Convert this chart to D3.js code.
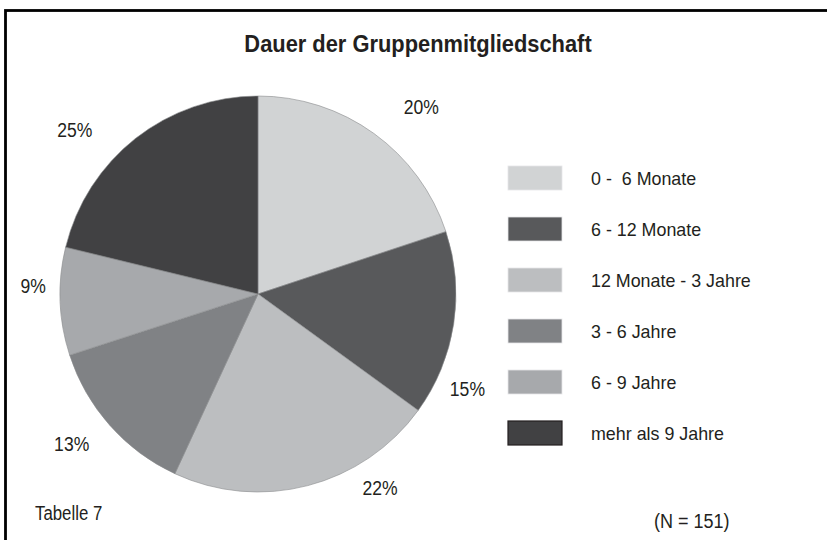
<!DOCTYPE html>
<html>
<head>
<meta charset="utf-8">
<script src="https://cdn.jsdelivr.net/npm/d3@7"></script>
<style>
  html, body { margin: 0; padding: 0; background: #fff; }
  svg { display: block; }
  text { font-family: "Liberation Sans", Arial, Helvetica, sans-serif; fill: #231f20; }
</style>
</head>
<body>
<svg id="chart" width="827" height="540"></svg>
<script>
// ---- data ----
const categories = ["0 -  6 Monate", "6 - 12 Monate", "12 Monate - 3 Jahre", "3 - 6 Jahre", "6 - 9 Jahre", "mehr als 9 Jahre"];
const shares = [19.9, 15.1, 21.9, 13.1, 8.8, 21.2];          // slice sizes as drawn (percent of circle)
const percentLabels = ["20%", "15%", "22%", "13%", "9%", "25%"]; // printed labels
const titleText = "Dauer der Gruppenmitgliedschaft";
const tableText = "Tabelle 7";
const nText = "(N = 151)";

// ---- styles / layout ----
const colors = ["#d1d3d4", "#58595b", "#bcbec0", "#808285", "#a7a9ac", "#414143"];
const labelLayout = [ // angular nudge (deg) and radius for each label
  { da: 5.4, r: 248 }, { da: 15.6, r: 230 }, { da: -17.6, r: 229 },
  { da: 2.8, r: 239 }, { da: 4.1, r: 225 }, { da: -10, r: 246 }
];

// make text look condensed: keep height, squeeze width
function condense(sel, factor) {
  sel.each(function () {
    const w = this.getComputedTextLength();
    d3.select(this).attr("textLength", w * factor).attr("lengthAdjust", "spacingAndGlyphs");
  });
}

const svg = d3.select("#chart");
const W = 827, H = 540;

// frame
svg.append("rect").attr("x", 5.5).attr("y", 10.5).attr("width", W + 20).attr("height", H + 20)
  .attr("fill", "none").attr("stroke", "#000").attr("stroke-width", 2.8);

// title
svg.append("text").attr("x", 418).attr("y", 52).attr("text-anchor", "middle")
  .attr("font-size", 23.5).attr("font-weight", "bold").text(titleText)
  .call(condense, 0.93);

// pie
const cx = 258, cy = 294, R = 198;
const pie = d3.pie().sort(null).value(d => d)(shares);
const arc = d3.arc().innerRadius(0).outerRadius(R);
const g = svg.append("g").attr("transform", `translate(${cx},${cy})`);
g.selectAll("path").data(pie).join("path")
  .attr("d", arc)
  .attr("fill", (d, i) => colors[i])
  .attr("stroke", "#8a8b8d").attr("stroke-width", 0.6);

// labels
g.selectAll("text.pct").data(pie).join("text").attr("class", "pct")
  .attr("text-anchor", "middle").attr("font-size", 19.5).attr("dy", "0.36em")
  .attr("x", (d, i) => {
    const a = (d.startAngle + d.endAngle) / 2 + labelLayout[i].da * Math.PI / 180;
    return labelLayout[i].r * Math.sin(a);
  })
  .attr("y", (d, i) => {
    const a = (d.startAngle + d.endAngle) / 2 + labelLayout[i].da * Math.PI / 180;
    return -labelLayout[i].r * Math.cos(a);
  })
  .text((d, i) => percentLabels[i])
  .call(condense, 0.9);

// legend
const ly = d3.scaleLinear().domain([0, categories.length - 1]).range([166, 166 + 51 * (categories.length - 1)]);
const lg = svg.append("g");
lg.selectAll("rect").data(categories).join("rect")
  .attr("x", 508).attr("y", (d, i) => ly(i)).attr("width", 54).attr("height", 24)
  .attr("fill", (d, i) => colors[i])
  .attr("stroke", (d, i) => i === categories.length - 1 ? "#231f20" : "#e6e7e8")
  .attr("stroke-width", (d, i) => i === categories.length - 1 ? 1.2 : 0.8);
lg.selectAll("text").data(categories).join("text")
  .attr("x", 591).attr("y", (d, i) => ly(i) + 19).attr("font-size", 18.6)
  .attr("xml:space", "preserve").style("white-space", "pre")
  .text(d => d)
  .call(condense, 0.96);

// footer texts
svg.append("text").attr("x", 35).attr("y", 520).attr("font-size", 20).text(tableText).call(condense, 0.84);
svg.append("text").attr("x", 654).attr("y", 528).attr("font-size", 20).text(nText).call(condense, 0.9);
</script>
</body>
</html>
